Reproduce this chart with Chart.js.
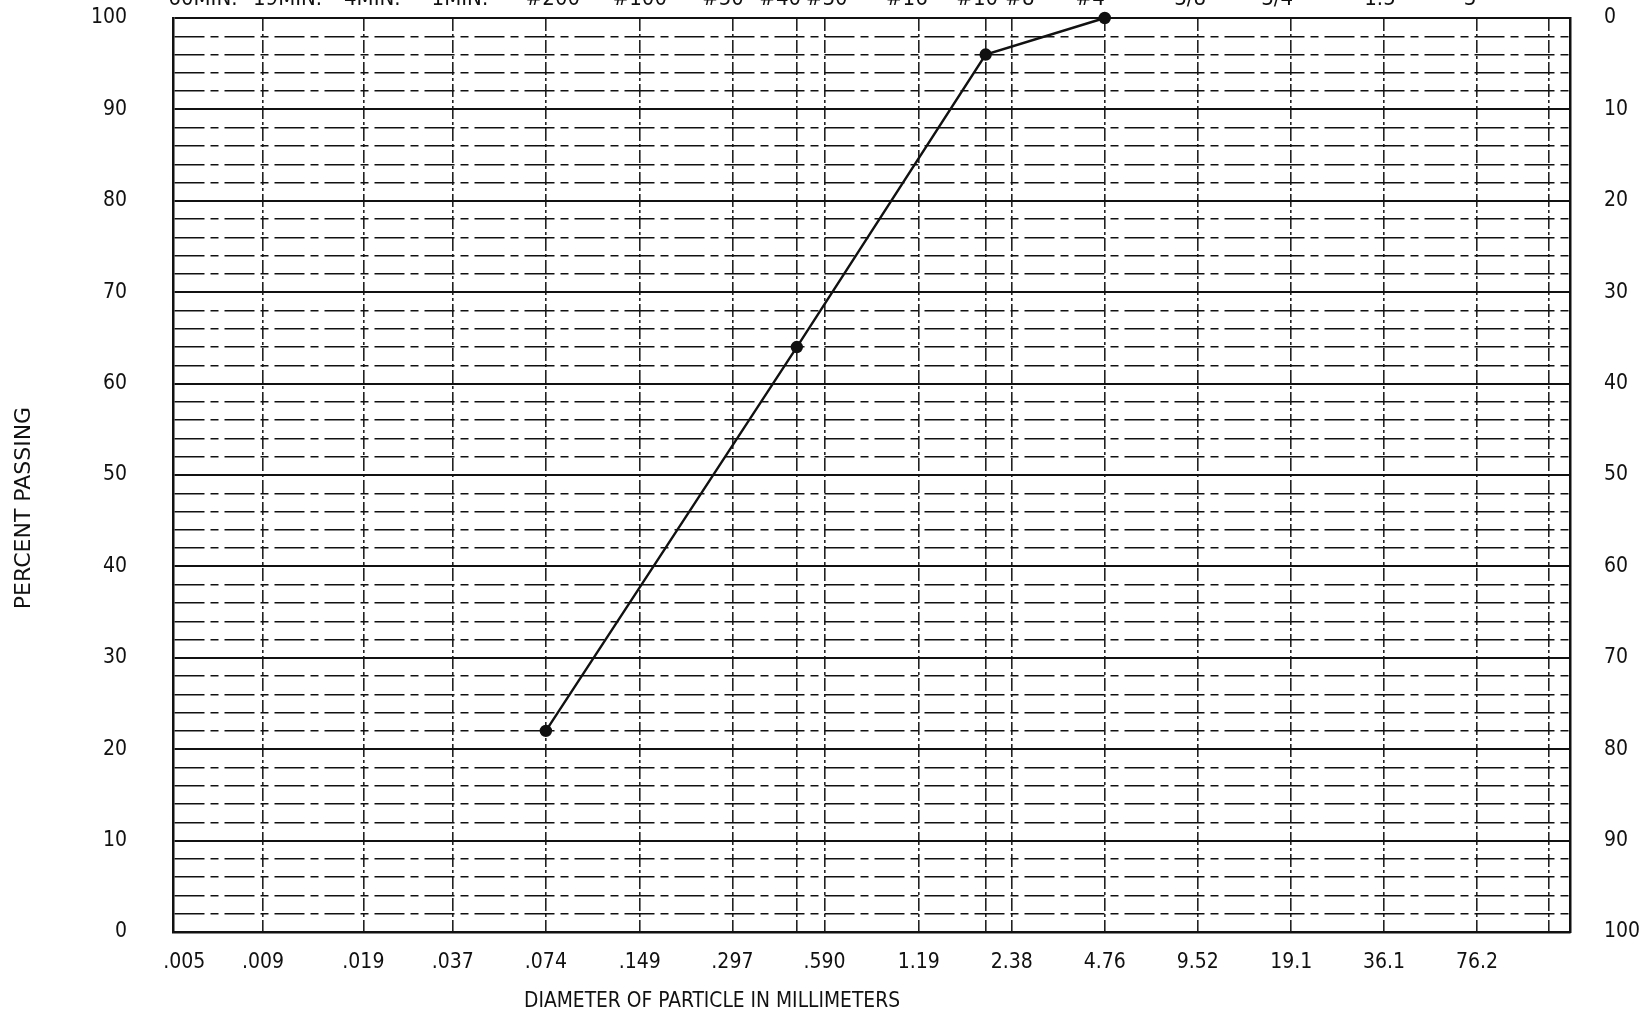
<!DOCTYPE html>
<html>
<head>
<meta charset="utf-8">
<script src="https://cdn.jsdelivr.net/npm/chart.js@4/dist/chart.umd.min.js"></script>
<style>
  html, body { margin: 0; padding: 0; background: #fff; }
  canvas { display: block; }
</style>
</head>
<body>
<canvas id="gradationChart" width="1644" height="1014"></canvas>
<script>
// grain size data (diameter in mm, percent passing)
const diameters = [0.074, 0.48, 1.96, 4.76];
const percentPassing = [22, 64, 96, 100];

// bottom axis ticks
const diameterTicks = [0.005, 0.009, 0.019, 0.037, 0.074, 0.149, 0.297, 0.59, 1.19, 2.38, 4.76, 9.52, 19.1, 38.1, 76.2];
const diameterLabels = ['.005', '.009', '.019', '.037', '.074', '.149', '.297', '.590', '1.19', '2.38', '4.76', '9.52', '19.1', '36.1', '76.2'];
// extra vertical lines without a label (#40, #10, 5 in.)
const extraLines = [0.48, 1.96, 130];

// top row: hydrometer times and sieve numbers (where they sit on the sheet, in mm)
const sieveLabels = ['60MIN.', '19MIN.', '4MIN.', '1MIN.', '#200', '#100', '#50', '#40', '#30', '#16', '#10', '#8', '#4', '3/8', '3/4', '1.5', '3'];
const sieveSizes = [0.00575, 0.0108, 0.0203, 0.039, 0.078, 0.149, 0.277, 0.424, 0.60, 1.09, 1.84, 2.53, 4.27, 8.99, 17.2, 37.0, 72.4];

const percentTicks = [0, 10, 20, 30, 40, 50, 60, 70, 80, 90, 100];
const minorStep = 2;

const narrowFont = "'Liberation Sans Narrow', 'DejaVu Sans Condensed', sans-serif";
const ink = '#111';

const sheetText = {
  id: 'sheetText',
  afterDraw(chart) {
    const { ctx, scales } = chart;
    ctx.save();
    ctx.fillStyle = ink;
    // top labels, cut off by the page edge as on the scan
    ctx.font = '22px ' + narrowFont;
    ctx.textAlign = 'center';
    ctx.textBaseline = 'alphabetic';
    sieveLabels.forEach((t, i) => {
      ctx.fillText(t, scales.x.getPixelForValue(sieveSizes[i]), 5);
    });
    // x title
    ctx.font = '21px ' + narrowFont;
    ctx.textBaseline = 'middle';
    ctx.fillText('DIAMETER OF PARTICLE IN MILLIMETERS', 712, 1002, 376);
    // y title
    ctx.translate(24, 508);
    ctx.rotate(-Math.PI / 2);
    ctx.font = "22px 'DejaVu Sans', sans-serif";
    ctx.fillText('PERCENT PASSING', 0, 0);
    ctx.restore();
  }
};

function isMajor(v) {
  return percentTicks.includes(v);
}

// keep tick padding from pushing the plot area down
function fixWidth(w) {
  return function (scale) {
    scale.width = w;
    scale.paddingTop = 0;
    scale.paddingBottom = 0;
  };
}

const xTickValues = diameterTicks.concat(extraLines).sort((a, b) => a - b);

new Chart(document.getElementById('gradationChart').getContext('2d'), {
  type: 'line',
  data: {
    datasets: [{
      data: diameters.map((d, i) => ({ x: d, y: percentPassing[i] })),
      borderColor: ink,
      backgroundColor: ink,
      borderWidth: 2.4,
      pointRadius: 5,
      pointHoverRadius: 5,
      clip: false,
      tension: 0
    }]
  },
  options: {
    responsive: false,
    animation: false,
    devicePixelRatio: 1,
    layout: { padding: { top: 18, left: 0, right: 0, bottom: 0 } },
    plugins: { legend: { display: false }, tooltip: { enabled: false } },
    scales: {
      x: {
        type: 'logarithmic',
        min: 0.0046,
        max: 152.4,
        afterBuildTicks(scale) {
          scale.ticks = xTickValues.map(v => ({ value: v }));
        },
        afterFit(scale) {
          scale.height = 82;
          scale.paddingLeft = 0;
          scale.paddingRight = 0;
        },
        ticks: {
          autoSkip: false,
          maxRotation: 0,
          padding: 18,
          color: ink,
          font: { family: narrowFont, size: 21 },
          callback(value) {
            const i = diameterTicks.indexOf(value);
            return i >= 0 ? diameterLabels[i] : '';
          }
        },
        grid: {
          drawTicks: false,
          lineWidth: 1.6,
          color(ctx) {
            if (ctx.tick && ctx.tick.value === 0.005) return 'rgba(0,0,0,0)';
            return '#222';
          }
        },
        border: { color: ink, width: 2.5, dash: [13, 3, 3, 3] }
      },
      y: {
        min: 0,
        max: 100,
        afterFit: fixWidth(173),
        ticks: {
          stepSize: minorStep,
          autoSkip: false,
          padding: 46,
          color: ink,
          font: { family: "'DejaVu Sans Condensed', sans-serif", size: 21 },
          callback(value) { return isMajor(value) ? String(value) : ''; }
        },
        grid: {
          drawTicks: false,
          color: ink,
          lineWidth(ctx) {
            return ctx.tick && isMajor(ctx.tick.value) ? 2 : 1.4;
          }
        },
        border: {
          color: ink,
          width: 2.5,
          dash(ctx) {
            if (!ctx.tick || isMajor(ctx.tick.value)) return [];
            return [30, 6, 8, 6];
          }
        }
      },
      y2: {
        position: 'right',
        reverse: true,
        min: 0,
        max: 100,
        afterFit: fixWidth(74),
        ticks: {
          stepSize: 10,
          padding: 34,
          color: ink,
          font: { family: "'DejaVu Sans Condensed', sans-serif", size: 21 },
          crossAlign: 'near'
        },
        grid: { drawOnChartArea: false, drawTicks: false },
        border: { color: ink, width: 2.5 }
      }
    }
  },
  plugins: [sheetText]
});
</script>
</body>
</html>
